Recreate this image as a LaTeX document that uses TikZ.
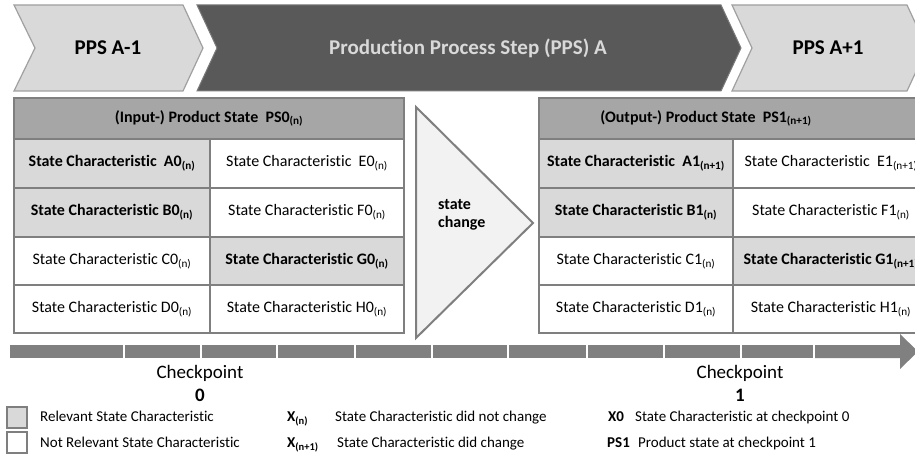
\documentclass[tikz,border=0pt]{standalone}
\usepackage{fontspec}
\setmainfont[Ligatures=NoCommon]{Carlito}
\definecolor{lightg}{HTML}{D9D9D9}
\definecolor{hdrg}{HTML}{A6A6A6}
\definecolor{darkg}{HTML}{595959}
\definecolor{lineg}{HTML}{7F7F7F}
\definecolor{chevline}{HTML}{A0A0A0}
\definecolor{trifill}{HTML}{F2F2F2}
\definecolor{barg}{HTML}{808080}
\begin{document}
\begin{tikzpicture}[x=1pt,y=-1pt,
  chevlight/.style={fill=lightg,draw=chevline,line width=1.2pt,line join=miter},
  chevdark/.style={fill=darkg,draw=darkg!80!white,line width=1pt},
  chevtext/.style={font=\fontsize{21}{25}\selectfont\bfseries,inner sep=0pt},
  cell/.style={rectangle,draw=lineg,line width=2.5pt,inner sep=0pt,font=\fontsize{16}{19}\selectfont,fill=white},
  relcell/.style={cell,fill=lightg,font=\fontsize{16}{19}\selectfont\bfseries},
  hdr/.style={cell,fill=hdrg,font=\fontsize{16}{19}\selectfont\bfseries},
  trishape/.style={fill=trifill,draw=lineg,line width=2pt,line join=miter},
  bar/.style={fill=barg},
  ckpt/.style={font=\fontsize{19}{22}\selectfont,inner sep=0pt},
  leg/.style={font=\fontsize{15}{17}\selectfont,inner sep=0pt,anchor=west,text height=10pt,text depth=3pt},
  legb/.style={leg,font=\fontsize{15}{17}\selectfont\bfseries},
  legbox/.style={draw=lineg,line width=2pt}
]
\useasboundingbox (0,0) rectangle (915,454);
\clip (0,0) rectangle (915,454);

% chevrons
\path[chevlight] (14,5) -- (183,5) -- (203,48) -- (183,91) -- (14,91) -- (35,48) -- cycle;
\node[chevtext] (c1) at (108,48) {PPS A-1};
\path[chevdark] (197,5) -- (721,5) -- (741,48) -- (721,91) -- (197,91) -- (217,48) -- cycle;
\node[chevtext,text=lightg] (c2) at (468,48) {Production Process Step (PPS) A};
\path[chevlight] (732,5) -- (907,5) -- (927,48) -- (907,91) -- (732,91) -- (752,48) -- cycle;
\node[chevtext] (c3) at (828,48) {PPS A+1};

% left table
\node[hdr,minimum width=390pt,minimum height=41pt] (lh) at (209,118.5) {(Input-) Product State~ PS0\textsubscript{(n)}};
\node[relcell,minimum width=196pt,minimum height=49pt] (la) at (112,163.5) {State Characteristic~ A0\textsubscript{(n)}};
\node[cell,minimum width=194pt,minimum height=49pt] (le) at (307,163.5) {State Characteristic~ E0\textsubscript{(n)}};
\node[relcell,minimum width=196pt,minimum height=49pt] (lb) at (112,212.5) {State Characteristic B0\textsubscript{(n)}};
\node[cell,minimum width=194pt,minimum height=49pt] (lf) at (307,212.5) {State Characteristic F0\textsubscript{(n)}};
\node[cell,minimum width=196pt,minimum height=48pt] (lc) at (112,261) {State Characteristic C0\textsubscript{(n)}};
\node[relcell,minimum width=194pt,minimum height=48pt] (lg) at (307,261) {State Characteristic G0\textsubscript{(n)}};
\node[cell,minimum width=196pt,minimum height=48pt] (ld) at (112,309) {State Characteristic D0\textsubscript{(n)}};
\node[cell,minimum width=194pt,minimum height=48pt] (lhh) at (307,309) {State Characteristic H0\textsubscript{(n)}};

% triangle
\path[trishape] (416,107) -- (533,223) -- (416,338) -- cycle;
\node[font=\fontsize{16}{18}\selectfont\bfseries,align=left,anchor=west,inner sep=0pt] (sc) at (438,215) {state\\change};

% right table
\node[hdr,minimum width=390pt,minimum height=41pt] (rh) at (734,118.5) {};
\node[font=\fontsize{16}{19}\selectfont\bfseries,inner sep=0pt] (rht) at (706,118.5) {(Output-) Product State~ PS1\textsubscript{(n+1)}};
\node[relcell,minimum width=194pt,minimum height=49pt] (ra) at (636,163.5) {State Characteristic~ A1\textsubscript{(n+1)}};
\node[cell,minimum width=196pt,minimum height=49pt] (re) at (831,163.5) {State Characteristic~ E1\textsubscript{(n+1)}};
\node[relcell,minimum width=194pt,minimum height=49pt] (rb) at (636,212.5) {State Characteristic B1\textsubscript{(n)}};
\node[cell,minimum width=196pt,minimum height=49pt] (rf) at (831,212.5) {State Characteristic F1\textsubscript{(n)}};
\node[cell,minimum width=194pt,minimum height=48pt] (rc) at (636,261) {State Characteristic C1\textsubscript{(n)}};
\node[relcell,minimum width=196pt,minimum height=48pt] (rg) at (831,261) {State Characteristic G1\textsubscript{(n+1)}};
\node[cell,minimum width=194pt,minimum height=48pt] (rd) at (636,309) {State Characteristic D1\textsubscript{(n)}};
\node[cell,minimum width=196pt,minimum height=48pt] (rhh) at (831,309) {State Characteristic H1\textsubscript{(n)}};

% timeline
\foreach \a/\b in {10/123,125/200,202/276,278/354,356/431,433/507,509/586,588/663,665/740,742/813}
  \fill[bar] (\a,345) rectangle (\b,358);
\fill[bar] (815,345) -- (900,345) -- (900,334) -- (918,351.5) -- (900,369) -- (900,358) -- (815,358) -- cycle;

\node[ckpt] (cp0) at (200,373) {Checkpoint};
\node[ckpt,font=\fontsize{19}{22}\selectfont\bfseries] (cp0n) at (200,395) {0};
\node[ckpt] (cp1) at (740,373) {Checkpoint};
\node[ckpt,font=\fontsize{19}{22}\selectfont\bfseries] (cp1n) at (740,395) {1};

% legend
\path[legbox,fill=lightg] (7,407) rectangle (27,428);
\path[legbox,fill=white] (7,432) rectangle (27,453);
\node[leg] (l1) at (40,418) {Relevant State Characteristic};
\node[leg] (l2) at (40,444) {Not Relevant State Characteristic};
\node[legb] (l3) at (287,418) {X\textsubscript{(n)}};
\node[leg] (l3t) at (335,418) {State Characteristic did not change};
\node[legb] (l4) at (287,444) {X\textsubscript{(n+1)}};
\node[leg] (l4t) at (337,444) {State Characteristic did change};
\node[legb] (l5) at (608,418) {X0};
\node[leg] (l5t) at (635,418) {State Characteristic at checkpoint 0};
\node[legb] (l6) at (607,444) {PS1};
\node[leg] (l6t) at (638,444) {Product state at checkpoint 1};
\end{tikzpicture}
\end{document}
